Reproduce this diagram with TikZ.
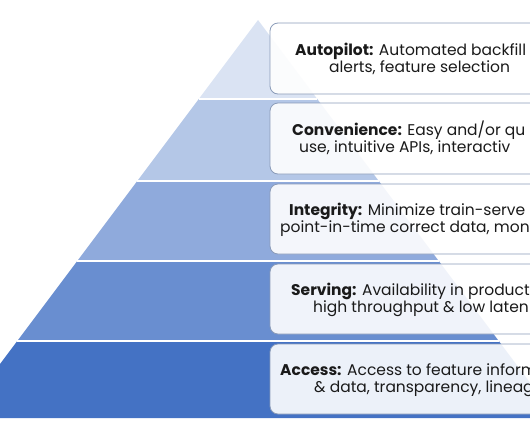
\documentclass[tikz,border=0pt]{standalone}
\usepackage{fontspec}
\setmainfont{Poppins}
\definecolor{base}{HTML}{4472C4}
\definecolor{boxline}{HTML}{8A9BB8}
\definecolor{ink}{HTML}{1A1A1A}
\tikzset{
  layer/.style={draw=none},
  sep/.style={draw=white, line width=1.6pt},
  infobox/.style={draw=boxline, line width=0.8pt, rounded corners=8pt, fill=white, fill opacity=0.9},
  txt/.style={anchor=base west, inner sep=0pt, text=ink, font=\fontsize{15.5}{18}\selectfont}
}
\begin{document}
\begin{tikzpicture}[x=1pt,y=-1pt]
\useasboundingbox (0,0) rectangle (530,442);
\clip (0,0) rectangle (530,442);
% pyramid layers
\fill[layer, fill=base!20!white] (258,20) -- (316.5,98) -- (199.5,98) -- cycle;
\fill[layer, fill=base!40!white] (199.5,98) -- (316.5,98) -- (378.75,181) -- (137.25,181) -- cycle;
\fill[layer, fill=base!60!white] (137.25,181) -- (378.75,181) -- (438.75,261) -- (77.25,261) -- cycle;
\fill[layer, fill=base!80!white] (77.25,261) -- (438.75,261) -- (498.75,341) -- (17.25,341) -- cycle;
\fill[layer, fill=base] (17.25,341) -- (498.75,341) -- (556.5,418) -- (-40.5,418) -- cycle;
% separators
\coordinate (s1l) at (198.75,99); \coordinate (s1r) at (317.25,99);
\coordinate (s2l) at (137.25,181); \coordinate (s2r) at (378.75,181);
\coordinate (s3l) at (77.25,261); \coordinate (s3r) at (438.75,261);
\coordinate (s4l) at (17.25,341); \coordinate (s4r) at (498.75,341);
\draw[sep] (s1l) -- (s1r);
\draw[sep] (s2l) -- (s2r);
\draw[sep] (s3l) -- (s3r);
\draw[sep] (s4l) -- (s4r);
% boxes
\draw[infobox] (270,23) rectangle (570,94);
\draw[infobox] (270,103) rectangle (570,174);
\draw[infobox] (270,184) rectangle (570,254);
\draw[infobox] (270,264) rectangle (570,334);
\draw[infobox] (270,344) rectangle (570,414);
% texts
\node[txt] (a1) at (295,55) {\textbf{Autopilot:} Automated backfill};
\node[txt] (a2) at (329,72) {alerts, feature selection};
\node[txt] (c1) at (292,135) {\textbf{Convenience:} Easy and/or qu};
\node[txt] (c2) at (299,152) {use, intuitive APIs, interactiv};
\node[txt] (i1) at (289,215.5) {\textbf{Integrity:} Minimize train-serve};
\node[txt] (i2) at (280,232.5) {point-in-time correct data, mon};
\node[txt] (v1) at (291,295.5) {\textbf{Serving:} Availability in product};
\node[txt] (v2) at (313,312.5) {high throughput \& low laten};
\node[txt] (x1) at (280,375.5) {\textbf{Access:} Access to feature inform};
\node[txt] (x2) at (314,392.5) {\& data, transparency, lineag};
\end{tikzpicture}
\end{document}
